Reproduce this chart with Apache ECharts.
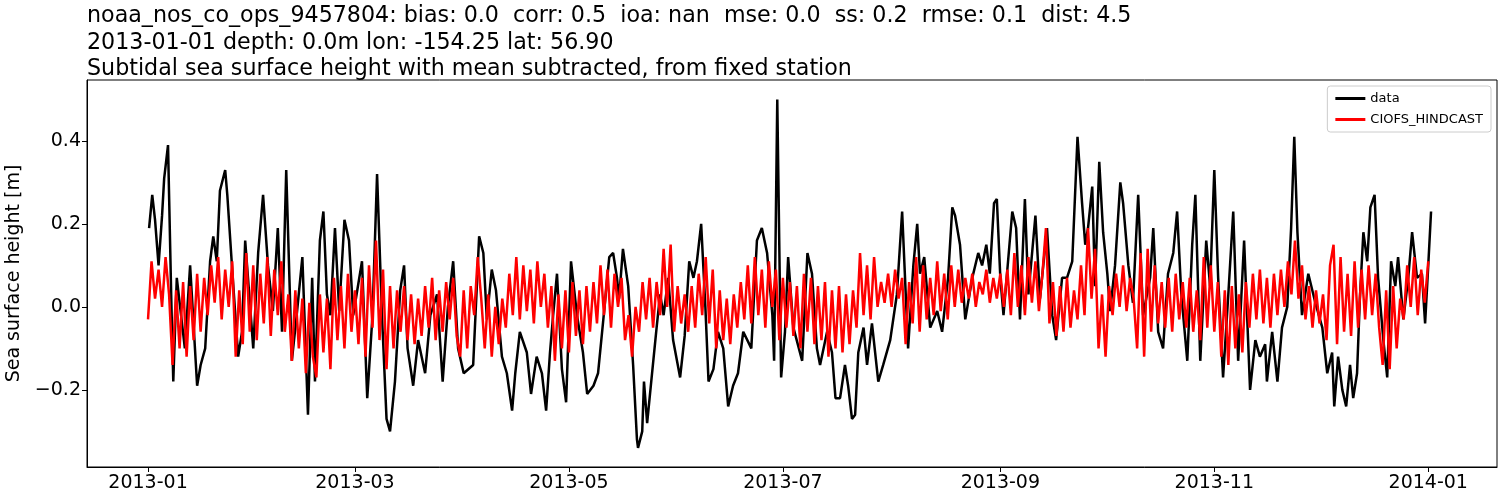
<!DOCTYPE html>
<html><head><meta charset="utf-8">
<script src="https://cdn.jsdelivr.net/npm/echarts@6/dist/echarts.min.js"></script>
<style>html,body{margin:0;padding:0;background:#fff}#c{width:1500px;height:500px}</style>
</head><body><div id="c"></div>
<script>
// x in days since 2013-01-01
const xTickDays = [0,59,120,181,243,304,365];
const xTickLabels = ['2013-01','2013-03','2013-05','2013-07','2013-09','2013-11','2014-01'];
const yTicks = [-0.2,0,0.2,0.4];
const yTickLabels = ['\u22120.2','0.0','0.2','0.4'];

const dataDays = [0.3,1.2,2,3,4,4.6,5.7,6.6,7.2,8.2,10.5,12,14,15,16.3,17.7,18.6,19.6,20.5,22,22.6,24,25.7,26.8,27.7,28.5,30,31.4,32.8,34.2,35.6,37,38.2,39.4,41,42.5,44,45.6,46.8,47.6,49,50,51,52,53.3,54.5,56,57.3,58.5,61,62.5,64,65.3,66.7,68,69,70.4,71.9,73,74,75.6,77,79,80.5,82.4,84,85.5,87,88.4,90,92.7,94.4,95.6,96.6,98,99.2,100.9,102.3,103.8,104.7,106,108,109.2,110.8,112.3,113.5,114.6,115.5,116.6,118,119.2,120.6,122.3,124,125.2,127,128.3,129.7,131.5,132.6,133.7,134.3,135.4,136.9,138.3,139.4,139.7,140.9,141.4,142.3,143.7,145,146,147,148.3,149.7,151.7,153,154.3,155.5,156.5,157.7,158.9,159.8,161.2,162.5,164,165.4,166.8,168.2,169.7,172,173.6,175,176.5,178,178.5,179.4,180.5,181.6,182.5,184,186.5,188,189.3,190.7,191.6,193.6,195,196,197.3,198.7,199.6,200.7,201.6,202.5,204,205,206.4,208.2,209.6,211.6,213.5,215,216.7,218.2,219.3,220.1,221.3,223,225,226.4,228.1,229.3,230.1,231.5,233,235,236.7,237.8,239,240,241.2,242,243,243.9,246.4,247.5,248.6,250,251,253,254.3,256.3,257.8,258.9,260.6,262,263.5,265,266.3,267.2,268,269.2,270,271.2,272.3,273.5,274.3,275.7,277.2,278,279.5,280.8,282.3,283.7,285.7,286.6,288,289.4,290.8,292.3,293.4,294.6,296.3,297.7,298.6,300,301.7,302.8,304,305.1,306.5,308,309.4,310.8,312.5,314.2,315.7,317,318.5,319,320.5,322,323.3,324.8,325.9,326.8,327.7,329,330.8,332.8,334.8,336.2,337.6,338.2,339.3,340.5,341.6,342.7,343.6,344.7,345.5,346.5,347.6,348.5,349.7,350.7,352.2,353.3,354.4,355.6,356.4,357.9,359.3,360.4,361.8,363.2,364.1,365,365.8];
const dataValues = [0.19,0.27,0.21,0.10,0.22,0.31,0.39,0.03,-0.18,0.07,-0.10,0.10,-0.19,-0.14,-0.10,0.11,0.17,0.11,0.28,0.33,0.27,0.09,-0.12,-0.06,0.16,0.07,-0.10,0.13,0.27,0.10,-0.01,0.19,-0.06,0.33,-0.13,-0.01,0.12,-0.26,0.07,-0.18,0.16,0.23,0.03,-0.02,0.19,-0.01,0.21,0.16,-0.02,0.11,-0.22,-0.02,0.32,-0.02,-0.27,-0.30,-0.18,0.04,0.10,-0.10,-0.19,-0.08,-0.16,-0.02,0.03,-0.18,0.0,0.11,-0.10,-0.16,-0.14,0.17,0.13,-0.03,0.09,0.04,-0.12,-0.16,-0.25,-0.16,-0.06,-0.11,-0.21,-0.12,-0.16,-0.25,-0.11,-0.02,0.08,-0.15,-0.23,0.11,-0.02,-0.11,-0.21,-0.19,-0.16,-0.04,0.12,0.13,0.07,0.02,0.14,0.05,-0.14,-0.32,-0.34,-0.30,-0.18,-0.28,-0.16,-0.05,0.03,-0.02,0.07,-0.08,-0.17,-0.07,0.11,0.07,0.11,0.20,0.0,-0.18,-0.15,-0.06,-0.10,-0.24,-0.19,-0.16,-0.06,-0.10,0.16,0.19,0.13,-0.02,-0.13,0.50,-0.17,-0.06,0.12,-0.05,-0.13,0.13,0.08,-0.10,-0.14,-0.06,-0.11,-0.22,-0.22,-0.14,-0.19,-0.27,-0.26,-0.11,-0.05,-0.14,-0.04,-0.18,-0.14,-0.08,0.03,0.23,-0.10,0.10,0.20,0.08,0.12,-0.05,-0.01,-0.06,0.07,0.24,0.22,0.15,-0.03,0.07,0.13,0.10,0.15,0.08,0.25,0.26,0.07,-0.02,0.23,0.19,-0.03,0.26,0.03,0.22,0.02,0.19,-0.02,-0.08,0.07,0.07,0.11,0.41,0.25,0.15,0.19,0.29,0.05,0.35,0.18,0.08,-0.01,0.10,0.30,0.25,0.10,0.01,0.27,-0.02,0.07,0.19,-0.06,-0.10,0.08,0.13,0.23,0.03,-0.13,0.15,0.27,-0.13,0.16,0.05,0.33,0.07,-0.17,0.03,0.23,-0.13,0.16,-0.20,-0.08,-0.12,-0.09,-0.18,-0.06,-0.18,-0.05,0.0,0.19,0.41,0.18,-0.02,0.08,0.01,-0.05,-0.16,-0.11,-0.24,-0.12,-0.20,-0.24,-0.14,-0.22,-0.16,0.02,0.18,0.11,0.24,0.27,0.07,-0.08,-0.17,0.11,0.05,0.12,-0.03,0.07,0.18,0.07,0.08,-0.04,0.10,0.23];

const modelValues = [
-0.03,0.11,0.02,0.09,0.0,0.12,0.03,-0.14,0.04,-0.10,
0.06,-0.12,0.05,-0.08,0.08,-0.06,0.07,-0.02,0.10,0.01,
0.12,-0.03,0.09,0.0,0.11,-0.12,0.04,-0.09,0.13,-0.06,
0.10,-0.08,0.08,-0.04,0.12,-0.07,0.09,-0.02,0.11,-0.06,
0.03,-0.13,0.04,-0.10,0.02,-0.16,0.01,-0.12,-0.17,0.03,
-0.11,0.02,-0.15,0.07,-0.08,0.05,-0.10,0.08,-0.06,0.04,
-0.09,0.07,-0.12,0.10,-0.05,0.16,-0.08,0.09,-0.15,0.05,
-0.10,0.04,-0.06,0.05,-0.08,0.03,-0.09,0.02,-0.07,0.05,
-0.05,0.07,-0.08,0.04,-0.06,0.06,-0.03,0.07,-0.07,-0.12,
0.04,-0.10,0.05,-0.02,0.12,0.02,-0.10,0.03,-0.12,0.0,
-0.09,0.02,-0.05,0.08,-0.02,0.12,-0.03,0.10,-0.01,0.09,
-0.04,0.11,0.0,0.08,-0.05,0.05,-0.13,0.03,-0.10,0.04,
-0.11,0.06,-0.07,0.04,-0.09,0.05,-0.06,0.06,-0.04,0.10,
-0.02,0.09,-0.05,0.08,0.0,0.07,-0.08,-0.02,-0.12,0.0,
-0.06,0.06,-0.03,0.07,-0.05,0.06,-0.02,0.14,0.0,0.15,
-0.06,0.05,-0.04,0.03,-0.06,0.05,-0.05,0.08,-0.02,0.12,
-0.04,0.09,-0.10,0.04,-0.08,0.02,-0.09,0.03,-0.05,0.06,
-0.03,0.10,-0.04,0.12,-0.02,0.09,-0.05,0.11,0.0,0.09,
-0.08,0.07,-0.05,0.06,-0.07,0.05,-0.10,0.08,-0.06,0.07,
-0.09,0.05,-0.08,0.06,-0.12,0.04,-0.10,0.05,-0.11,0.03,
-0.09,0.04,-0.05,0.13,-0.02,0.10,-0.03,0.12,0.0,0.06,
0.01,0.08,0.0,0.09,0.02,0.07,-0.09,0.06,-0.04,0.12,
-0.06,0.10,-0.03,0.07,-0.02,0.11,-0.01,0.08,-0.03,0.10,
0.0,0.09,0.01,0.07,0.02,0.08,0.0,0.06,0.03,0.09,
0.01,0.07,0.02,0.08,0.0,0.09,-0.02,0.13,0.0,0.10,
-0.02,0.12,0.01,0.11,-0.01,0.08,0.19,-0.04,0.06,-0.07,
0.05,-0.06,0.07,-0.05,0.04,-0.03,0.10,-0.02,0.19,0.02,
0.14,-0.10,0.03,-0.12,0.05,-0.02,0.08,0.0,0.10,-0.01,
0.07,0.02,-0.10,0.13,-0.12,0.14,-0.06,0.10,-0.04,0.06,
-0.05,0.07,-0.06,0.08,-0.03,0.06,-0.05,0.07,-0.06,0.04,
-0.08,0.12,-0.05,0.10,-0.06,0.06,-0.12,0.04,-0.14,0.05,
-0.10,0.03,-0.11,0.06,-0.05,0.08,-0.03,0.09,-0.04,0.07,
-0.05,0.08,-0.02,0.09,0.0,0.11,0.03,0.16,0.02,0.10,
-0.03,0.05,-0.05,0.04,-0.04,0.03,-0.08,0.10,0.15,-0.09,
0.12,-0.06,0.08,-0.07,0.11,-0.05,0.09,-0.03,0.10,-0.02,
0.08,-0.05,-0.14,0.04,-0.15,0.05,-0.10,0.02,-0.03,0.10,
0.0,0.12,-0.02,0.09,0.01,0.11];

const titleLines = [
 'noaa_nos_co_ops_9457804: bias: 0.0  corr: 0.5  ioa: nan  mse: 0.0  ss: 0.2  rmse: 0.1  dist: 4.5',
 '2013-01-01 depth: 0.0m lon: -154.25 lat: 56.90',
 'Subtidal sea surface height with mean subtracted, from fixed station'];

const ff = 'DejaVu Sans';
const chart = echarts.init(document.getElementById('c'));
chart.setOption({
  animation:false,
  textStyle:{fontFamily:ff},
  title:{text:titleLines.join('\n'), left:82, top:-2, textStyle:{fontFamily:ff,fontSize:22.2,fontWeight:'normal',color:'#000',lineHeight:26.5}},
  grid:{left:87,right:3,top:80,bottom:33,outerBoundsMode:'none',containLabel:false},
  legend:{right:9,top:86,orient:'vertical',itemWidth:30,itemHeight:3,itemGap:8,padding:[6,8],
    borderColor:'#ccc',borderWidth:1,borderRadius:3,backgroundColor:'#fff',
    textStyle:{fontFamily:ff,fontSize:13,color:'#000'},
    data:[{name:'data',icon:'rect'},{name:'CIOFS_HINDCAST',icon:'rect'}]},
  xAxis:{type:'value',min:-17.4,max:384.6,
    axisLine:{show:true,onZero:false,lineStyle:{color:'#000'}},
    splitLine:{show:false},
    axisTick:{show:true,customValues:xTickDays,length:5,lineStyle:{color:'#000'}},
    axisLabel:{customValues:xTickDays,fontSize:19,color:'#000',margin:7,
      formatter:v=>xTickLabels[xTickDays.indexOf(Math.round(v))]||''}},
  yAxis:{type:'value',min:-0.386,max:0.547,name:'Sea surface height [m]',nameLocation:'middle',nameGap:62,
    nameTextStyle:{fontSize:19,color:'#000'},
    axisLine:{show:true,onZero:false,lineStyle:{color:'#000'}},
    splitLine:{show:false},
    axisTick:{show:true,customValues:yTicks,length:5,lineStyle:{color:'#000'}},
    axisLabel:{customValues:yTicks,fontSize:19,color:'#000',margin:6,
      formatter:v=>{const i=yTicks.findIndex(t=>Math.abs(t-v)<1e-6);return i>=0?yTickLabels[i]:'';}}},
  series:[
    {name:'data',type:'line',showSymbol:false,color:'#000',lineStyle:{width:2.5,color:'#000'},
      data:dataDays.map((d,i)=>[d,dataValues[i]])},
    {name:'CIOFS_HINDCAST',type:'line',showSymbol:false,color:'#ff0000',lineStyle:{width:2.5,color:'#ff0000'},
      data:modelValues.map((v,i)=>[i,v])}
  ]
});
chart.setOption({graphic:[{type:'rect',shape:{x:87,y:80,width:1410,height:387},style:{fill:null,stroke:'#000',lineWidth:1},silent:true}]});
</script></body></html>
